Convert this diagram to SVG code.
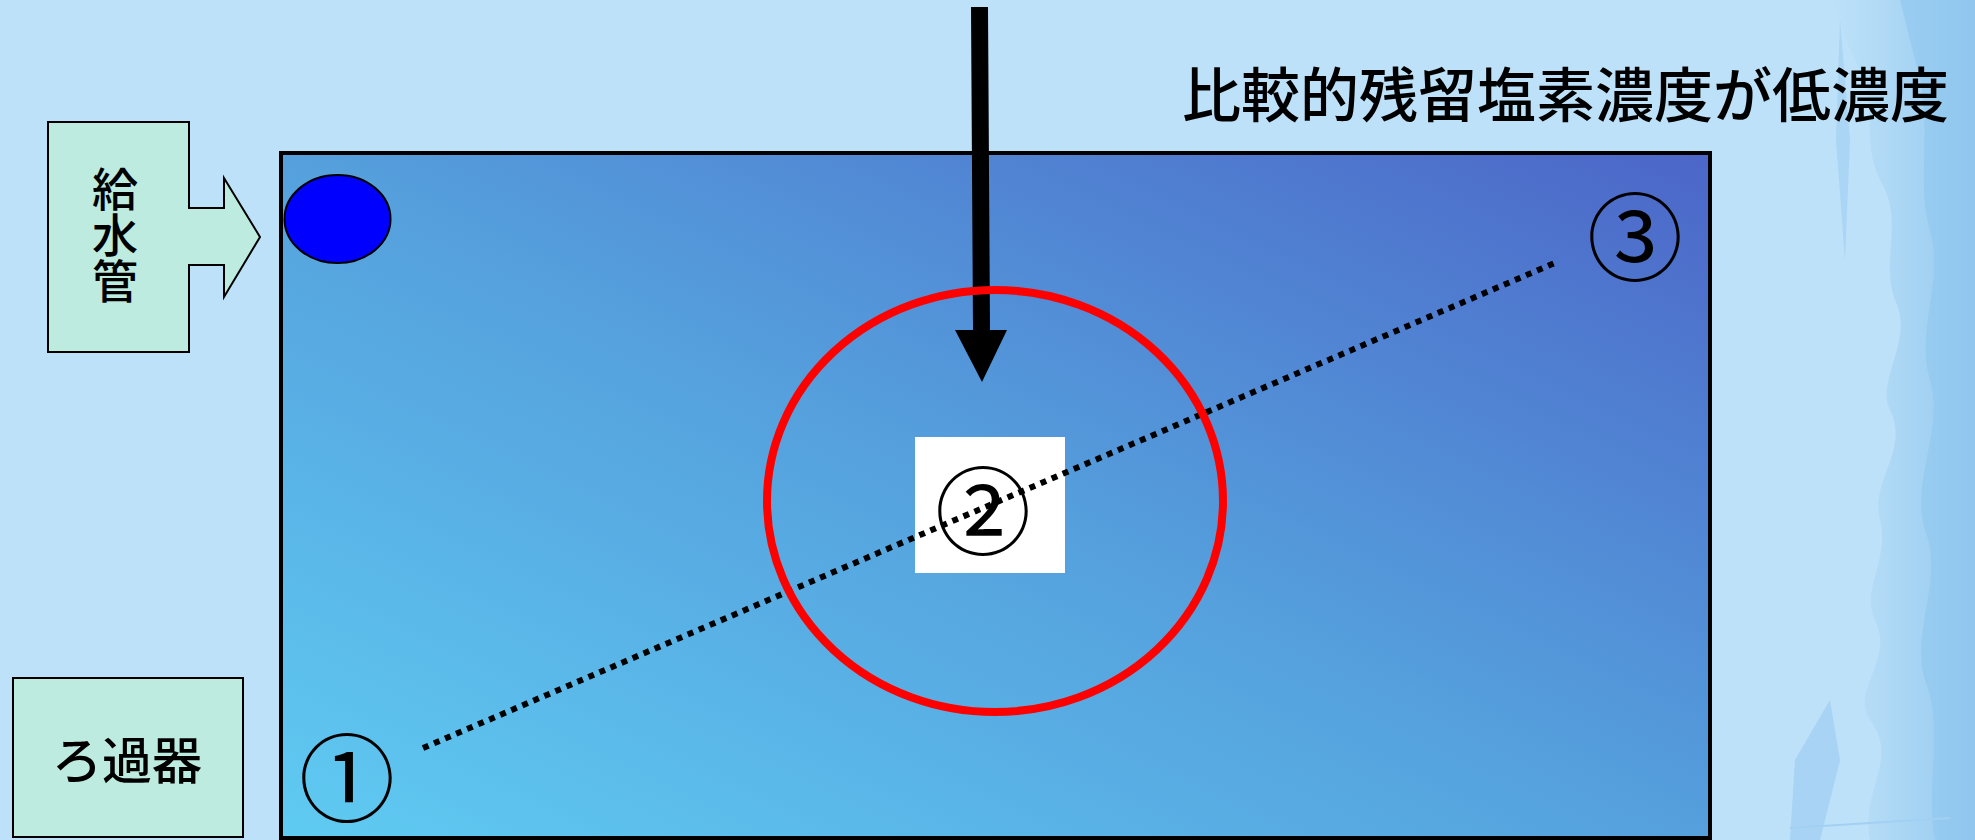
<svg xmlns="http://www.w3.org/2000/svg" width="1975" height="840" viewBox="0 0 1975 840">
<defs>
<linearGradient id="tank" x1="0" y1="1" x2="1" y2="0">
<stop offset="0" stop-color="#5FCBF2"/>
<stop offset="0.5" stop-color="#55A0DD"/>
<stop offset="1" stop-color="#4C66C8"/>
</linearGradient>
<linearGradient id="tex" x1="0" y1="0" x2="1" y2="0">
<stop offset="0" stop-color="#A8D6F4" stop-opacity="0"/>
<stop offset="0.5" stop-color="#A2D1F2" stop-opacity="0.7"/>
<stop offset="1" stop-color="#92C8EF"/>
</linearGradient>
<style>
.lbl{font-family:"Noto Sans CJK JP","Noto Sans",sans-serif;fill:#000;font-weight:500}
.box{fill:#BDEBDF;stroke:#000;stroke-width:2}
.num{font-family:"Noto Sans CJK JP","DejaVu Sans",sans-serif;font-size:96px;text-anchor:middle;fill:#000}
</style>
</defs>
<rect id="background" x="0" y="0" width="1975" height="840" fill="#BDE1F9"/>
<g id="texture">
<path d="M1830,0 H1975 V840 H1870 C1860,790 1900,760 1870,720 C1850,690 1895,660 1875,620 C1860,590 1890,560 1880,520 C1870,480 1910,450 1890,410 C1875,380 1915,340 1895,300 C1880,260 1905,220 1880,180 C1860,140 1880,100 1855,60 C1845,40 1840,20 1830,0 Z" fill="url(#tex)"/>
<path d="M1900,0 H1975 V840 H1935 C1925,780 1945,730 1925,680 C1910,630 1945,580 1925,530 C1910,480 1945,430 1930,380 C1915,330 1945,280 1930,230 C1915,180 1935,120 1915,60 Z" fill="#90C6EE" opacity="0.6"/>
<path d="M1795,760 L1830,700 L1840,760 L1820,840 L1790,840 Z" fill="#A2D0F2" opacity="0.8"/>
<path d="M1840,20 L1850,140 L1845,260 L1836,140 Z" fill="#A2D0F2" opacity="0.7"/>
<line x1="1790" y1="828" x2="1950" y2="818" stroke="#A2D0F2" stroke-width="2"/>
</g>
<g id="tank-node">
<rect x="281" y="153" width="1429" height="685" fill="url(#tank)" stroke="#000" stroke-width="4"/>
</g>
<g id="inlet-dot">
<ellipse cx="337.5" cy="219" rx="53" ry="44" fill="#0000FF" stroke="#000" stroke-width="2"/>
</g>
<g id="supply-pipe">
<path class="box" d="M48,122 H189 V208 H224 V178 L260,237 L224,297 V265 H189 V352 H48 Z"/>
<text class="lbl" font-size="46" text-anchor="middle" x="115" y="235" writing-mode="tb" style="writing-mode:vertical-rl">給水管</text>
</g>
<g id="filter">
<rect class="box" x="13" y="678" width="230" height="159"/>
<text class="lbl" font-size="50" text-anchor="middle" x="127" y="779">ろ過器</text>
</g>
<g id="title">
<text class="lbl" font-size="59" x="1182" y="117">比較的残留塩素濃度が低濃度</text>
</g>
<g id="point1">
<text class="num" x="347" y="814">①</text>
</g>
<g id="point2">
<rect x="915" y="437" width="150" height="136" fill="#FFFFFF"/>
<text class="num" x="983" y="547">②</text>
</g>
<g id="point3">
<text class="num" x="1635" y="273">③</text>
</g>
<g id="connectors">
<line x1="423" y1="748" x2="1557" y2="262" stroke="#000" stroke-width="6" stroke-dasharray="6 6"/>
<path d="M971,7 H988 L990,330 H1007 L982,382 L955,330 H973 Z" fill="#000"/>
</g>
<g id="highlight">
<ellipse cx="995" cy="501" rx="228" ry="211" fill="none" stroke="#FF0000" stroke-width="8"/>
</g>
</svg>
